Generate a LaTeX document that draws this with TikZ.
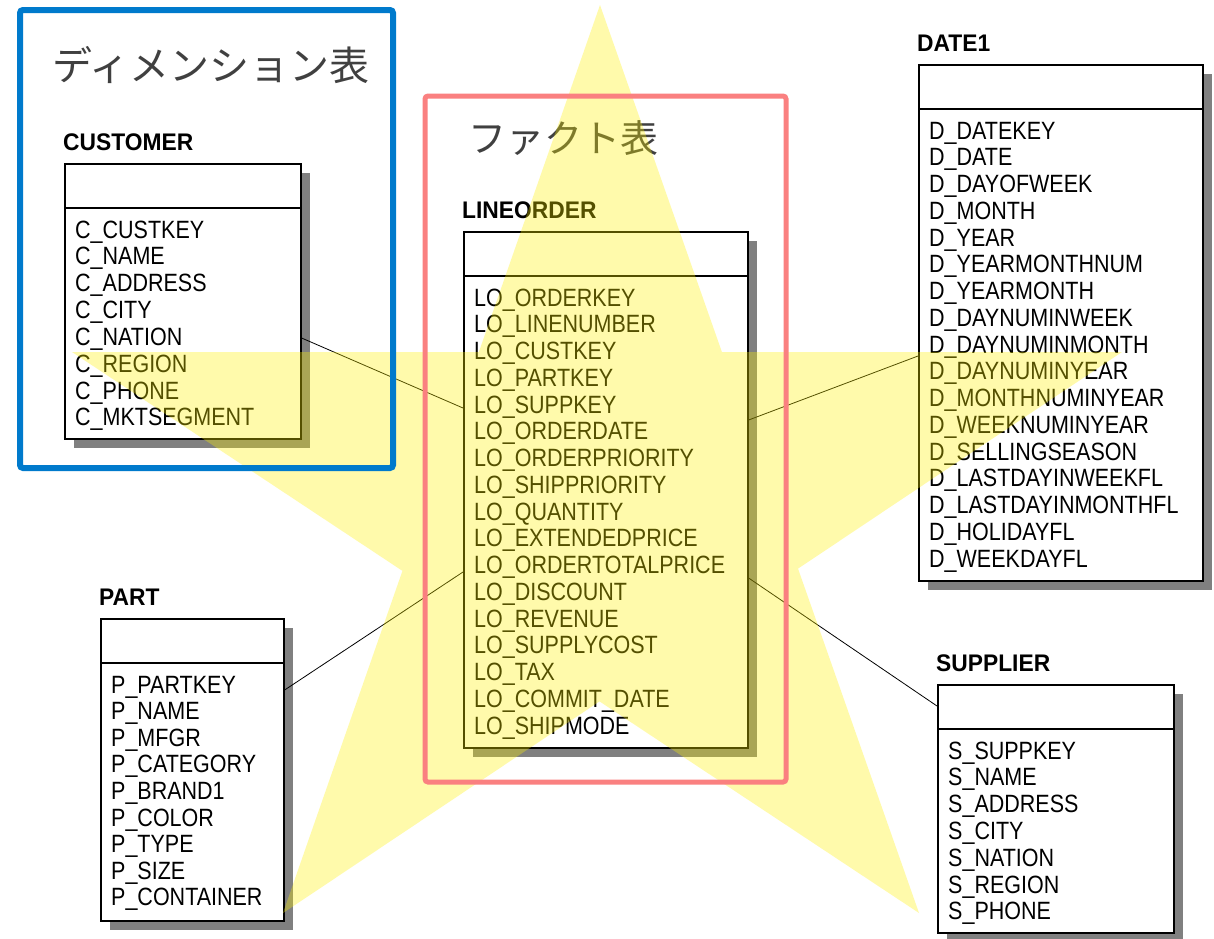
\documentclass[tikz,border=0pt]{standalone}
\usepackage{fontspec}
\setmainfont{Liberation Sans}
\newfontfamily\fieldfont[FakeStretch=0.86]{Liberation Sans}
\newfontfamily\titlefont[FakeStretch=0.95]{Liberation Sans}
\newfontfamily\jpfont{Noto Sans CJK JP}
\definecolor{frameblue}{RGB}{0,122,204}
\definecolor{framepink}{RGB}{250,128,128}
\definecolor{shadowgray}{RGB}{128,128,128}
\definecolor{jptext}{RGB}{64,64,64}
\tikzset{
  tblbox/.style={draw=black, fill=white, line width=1.6pt, inner sep=0pt, anchor=north west},
  tbltitle/.style={anchor=base west, inner sep=0pt, font=\titlefont\bfseries\fontsize{24}{24}\selectfont},
  fld/.style={anchor=base west, inner sep=0pt, font=\fieldfont\fontsize{25}{25}\selectfont},
  link/.style={draw=black, line width=0.8pt},
  jplabel/.style={anchor=west, inner sep=0pt, text=jptext},
  starfill/.style={fill=yellow, fill opacity=0.33, draw=none},
  framebox/.style={line width=6pt, rounded corners=3pt},
}
% #1 name, #2 x, #3 y, #4 width, #5 height, #6 title, #7 pitch, #8 fields
\newcommand\ertable[8]{%
  \fill[shadowgray] (#2+10,#3+10) rectangle ++(#4,#5);
  \node[tblbox, minimum width=#4pt, minimum height=#5pt] (#1) at (#2,#3) {};
  \draw[line width=1.6pt] (#2,#3+45) -- (#2+#4,#3+45);
  \node[tbltitle] (#1-title) at (#2-1,#3-13) {#6};
  \foreach \t [count=\i from 0] in {#8} {
    \node[fld] (#1-f\i) at (#2+11,#3+75+\i*#7) {\t};
  }%
}
\begin{document}
\begin{tikzpicture}[x=1pt,y=-1pt]
\useasboundingbox (0,0) rectangle (1214,938);
\fill[white] (0,0) rectangle (1214,938);

\ertable{cust}{64}{163}{236}{275}{CUSTOMER}{26.85}{C\_CUSTKEY,C\_NAME,C\_ADDRESS,C\_CITY,C\_NATION,C\_REGION,C\_PHONE,C\_MKTSEGMENT}
\ertable{lo}{463}{231}{284}{516}{LINEORDER}{26.75}{LO\_ORDERKEY,LO\_LINENUMBER,LO\_CUSTKEY,LO\_PARTKEY,LO\_SUPPKEY,LO\_ORDERDATE,LO\_ORDERPRIORITY,LO\_SHIPPRIORITY,LO\_QUANTITY,LO\_EXTENDEDPRICE,LO\_ORDERTOTALPRICE,LO\_DISCOUNT,LO\_REVENUE,LO\_SUPPLYCOST,LO\_TAX,LO\_COMMIT\_DATE,LO\_SHIPMODE}
\ertable{date}{918}{64}{284}{516}{DATE1}{26.75}{D\_DATEKEY,D\_DATE,D\_DAYOFWEEK,D\_MONTH,D\_YEAR,D\_YEARMONTHNUM,D\_YEARMONTH,D\_DAYNUMINWEEK,D\_DAYNUMINMONTH,D\_DAYNUMINYEAR,D\_MONTHNUMINYEAR,D\_WEEKNUMINYEAR,D\_SELLINGSEASON,D\_LASTDAYINWEEKFL,D\_LASTDAYINMONTHFL,D\_HOLIDAYFL,D\_WEEKDAYFL}
\ertable{part}{100}{618}{183}{302}{PART}{26.6}{P\_PARTKEY,P\_NAME,P\_MFGR,P\_CATEGORY,P\_BRAND1,P\_COLOR,P\_TYPE,P\_SIZE,P\_CONTAINER}
\ertable{supp}{937}{684}{236}{248}{SUPPLIER}{26.8}{S\_SUPPKEY,S\_NAME,S\_ADDRESS,S\_CITY,S\_NATION,S\_REGION,S\_PHONE}

% connectors
\draw[link] ([yshift=-175pt]cust.north east) -- ([yshift=-177pt]lo.north west);
\draw[link] ([yshift=-189pt]lo.north east) -- ([yshift=-292pt]date.north west);
\draw[link] ([yshift=-72pt]part.north east) -- ([yshift=-341pt]lo.north west);
\draw[link] ([yshift=-347pt]lo.north east) -- ([yshift=-22pt]supp.north west);

% Japanese labels
\node[jplabel, font=\jpfont\fontsize{40}{40}\selectfont] (jdim) at (52,65) {ディメンション表};
\node[jplabel, font=\jpfont\fontsize{38}{38}\selectfont] (jfact) at (468,138) {ファクト表};

% star overlay
\fill[starfill] (600,5) -- (919,913) -- (72,352) -- (1122,352) -- (283,913) -- cycle;

% frames
\draw[framebox, frameblue] (20,10) rectangle (393,468);
\draw[framebox, framepink, line width=5pt] (425,96) rectangle (786,782);
\end{tikzpicture}
\end{document}
